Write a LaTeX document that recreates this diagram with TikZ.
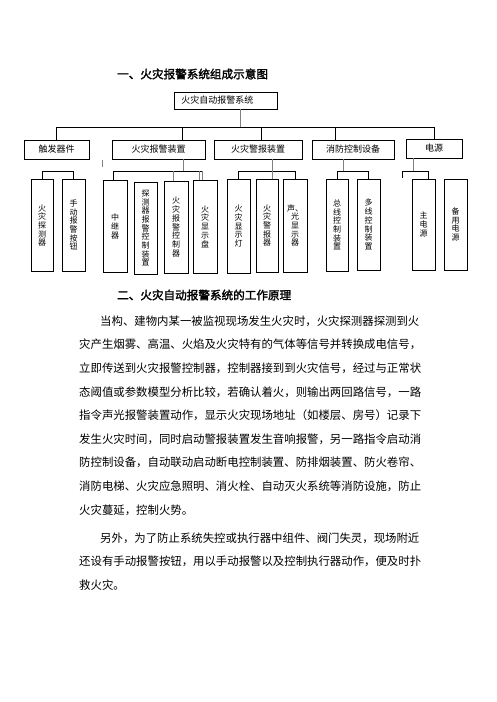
\documentclass[tikz,border=0pt]{standalone}
\usepackage{fontspec}
\setmainfont{Noto Sans CJK SC}
\newfontfamily\heiti[FakeBold=2]{Noto Sans CJK SC}
\begin{document}
\begin{tikzpicture}[x=1pt,y=-1pt,
		box/.style={draw,line width=0.8pt,inner sep=0pt,minimum height=19,font=\fontsize{9}{9}\selectfont},
		vbox/.style={draw,line width=0.8pt,inner sep=0pt,minimum width=23,minimum height=92,align=center,font=\fontsize{8}{8.7}\selectfont},
		link/.style={line width=0.8pt},
		tap/.style={line width=0.8pt,gray},
		txt/.style={anchor=west,inner sep=0pt,font=\fontsize{11.4}{11.4}\selectfont},
		head/.style={anchor=west,inner sep=0pt,font=\heiti\fontsize{11.6}{11.6}\selectfont}]
		\useasboundingbox (0,0) rectangle (496,702);
		\node[head] (h1) at (117,74) {一、火灾报警系统组成示意图};
		% top and second row
		\node[box,anchor=west,minimum height=17,text width=89pt,inner xsep=7pt,align=left] (top) at (174,100.5) {火灾自动报警系统};
		\node[box,minimum width=65] (trig) at (56.5,149.5) {触发器件};
		\node[box,minimum width=93] (alrm) at (158.5,149.5) {火灾报警装置};
		\node[box,minimum width=88] (warn) at (258,149.5) {火灾警报装置};
		\node[box,minimum width=82] (ctrl) at (353,149.5) {消防控制设备};
		\node[box,minimum width=56] (pwr) at (434,148.5) {电源};
		% third row
		\node[vbox,minimum width=22] (det) at (42,225.5) {火\\灾\\探\\测\\器};
		\node[vbox] (btn) at (73.5,225) {手\\动\\报\\警\\按\\钮};
		\node[vbox,minimum width=24] (rep) at (115,226.5) {中\\继\\器};
		\node[vbox] (dctl) at (145.5,228) {探\\测\\器\\报\\警\\控\\制\\装\\置};
		\node[vbox,minimum width=24] (fac) at (176,227) {火\\灾\\报\\警\\控\\制\\器};
		\node[vbox,minimum width=24,minimum height=93] (fdp) at (205,226.5) {火\\灾\\显\\示\\盘};
		\node[vbox,minimum height=94] (lamp) at (238.5,226) {火\\灾\\显\\示\\灯};
		\node[vbox,minimum width=22,minimum height=93] (sndr) at (267,225.5) {火\\灾\\警\\报\\器};
		\node[vbox,minimum width=24,minimum height=93] (slv) at (295,225.5) {声、\\光\\显\\示\\器};
		\node[vbox,minimum width=22] (zxk) at (337,225) {总\\线\\控\\制\\装\\置};
		\node[vbox,minimum height=91] (dxk) at (368.5,224.5) {多\\线\\控\\制\\装\\置};
		\node[vbox,minimum height=91] (zdy) at (423.5,224.5) {主\\电\\源};
		\node[vbox,minimum height=91] (bdy) at (455.5,224.5) {备\\用\\电\\源};
		% bus
		\coordinate (bus) at (0,127);
		\draw[link] (trig.north) |- (bus -| pwr.north) -- (pwr.north);
		\draw[tap] (top.south -| 240,0) -- (240,0 |- bus);
		\foreach \x/\n in {182/alrm,261/warn,335/ctrl}{
			\draw[link] (\x,0 |- bus) -- (\x,0 |- \n.north);
		}
		% brackets
		\coordinate (grp) at (0,171);
		\draw[link] (det.north) |- (grp -| btn.north) -- (btn.north);
		\draw[tap] (102,160) -- (102,167);
		\draw[tap] (alrm.south -| 183,0) -- (183,0 |- grp);
		\draw[link] (113,0 |- rep.north) -- (113,0 |- grp) -- (202,0 |- grp);
		\foreach \x/\n in {173/fac,199/fdp,202/fdp}{
			\draw[tap] (\x,0 |- grp) -- (\x,0 |- \n.north);
		}
		\draw[link] (lamp.north) |- (grp -| slv.north) -- (slv.north);
		\draw[tap] (warn.south -| 272,0) -- (272,0 |- sndr.north);
		\draw[link] (zxk.north) |- (grp -| dxk.north) -- (dxk.north);
		\draw[tap] (ctrl.south -| 343,0) -- (343,0 |- grp);
		\draw[link] (402,178) |- (428,0 |- grp) -- (428,0 |- zdy.north);
		\draw[tap] (pwr.south -| 413,0) -- (413,0 |- grp);
		% text
		\node[head] (h2) at (117,295) {二、火灾自动报警系统的工作原理};
		\node[txt] (p0) at (100,321) {当构、建物内某一被监视现场发生火灾时，火灾探测器探测到火};
		\foreach \t [count=\i] in {灾产生烟雾、高温、火焰及火灾特有的气体等信号并转换成电信号，,
			立即传送到火灾报警控制器，控制器接到到火灾信号，经过与正常状,
			态阈值或参数模型分析比较，若确认着火，则输出两回路信号，一路,
			指令声光报警装置动作，显示火灾现场地址（如楼层、房号）记录下,
			发生火灾时间，同时启动警报装置发生音响报警，另一路指令启动消,
			防控制设备，自动联动启动断电控制装置、防排烟装置、防火卷帘、,
			消防电梯、火灾应急照明、消火栓、自动灭火系统等消防设施，防止,
			火灾蔓延，控制火势。}{
			\node[txt] (p\i) at (79,{321+23.6*\i}) {\t};
		}
		\node[txt] (q0) at (100,538) {另外，为了防止系统失控或执行器中组件、阀门失灵，现场附近};
		\node[txt] (q1) at (79,561.6) {还设有手动报警按钮，用以手动报警以及控制执行器动作，便及时扑};
		\node[txt] (q2) at (79,585.2) {救火灾。};

	\end{tikzpicture}
\end{document}
